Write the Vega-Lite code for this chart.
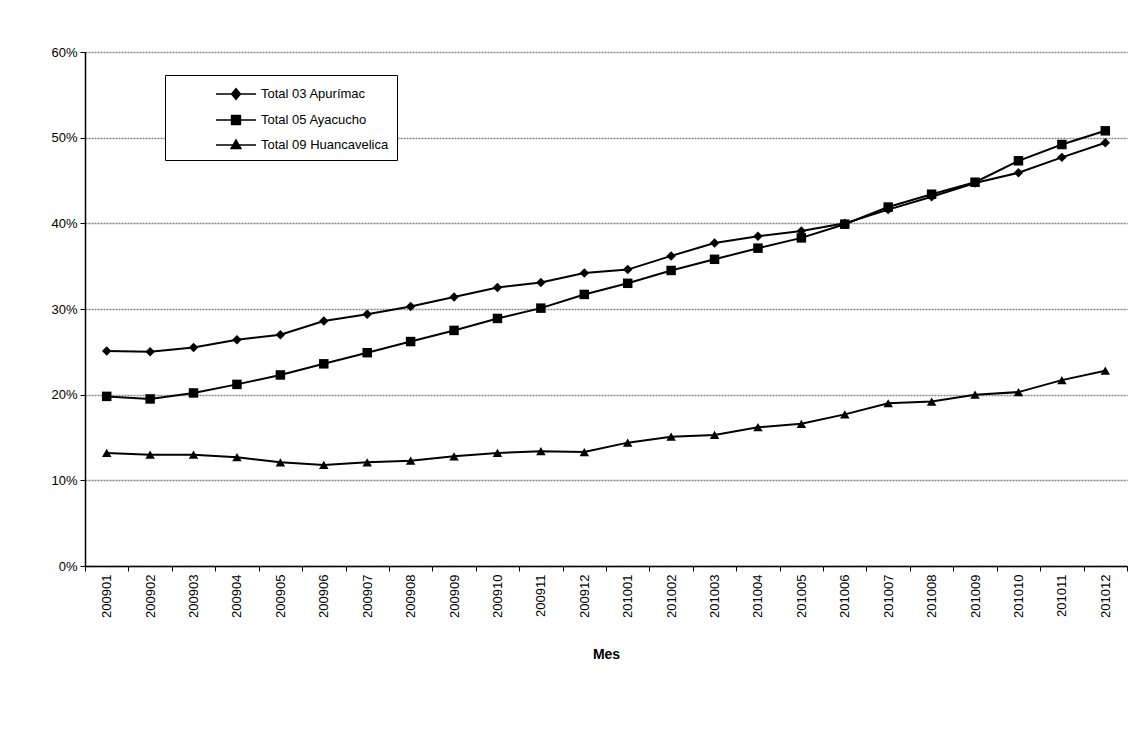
{
  "$schema": "https://vega.github.io/schema/vega-lite/v6.json",
  "width": 1042,
  "height": 514,
  "autosize": "none",
  "padding": {"left": 85, "top": 52, "right": 15, "bottom": 170},
  "background": "white",
  "config": {
    "view": {"stroke": null},
    "font": "Liberation Sans"
  },
  "datasets": {
    "series": [
      {"mes": "200901", "serie": "Total 03 Apurímac", "valor": 0.251},
      {"mes": "200902", "serie": "Total 03 Apurímac", "valor": 0.250},
      {"mes": "200903", "serie": "Total 03 Apurímac", "valor": 0.255},
      {"mes": "200904", "serie": "Total 03 Apurímac", "valor": 0.264},
      {"mes": "200905", "serie": "Total 03 Apurímac", "valor": 0.270},
      {"mes": "200906", "serie": "Total 03 Apurímac", "valor": 0.286},
      {"mes": "200907", "serie": "Total 03 Apurímac", "valor": 0.294},
      {"mes": "200908", "serie": "Total 03 Apurímac", "valor": 0.303},
      {"mes": "200909", "serie": "Total 03 Apurímac", "valor": 0.314},
      {"mes": "200910", "serie": "Total 03 Apurímac", "valor": 0.325},
      {"mes": "200911", "serie": "Total 03 Apurímac", "valor": 0.331},
      {"mes": "200912", "serie": "Total 03 Apurímac", "valor": 0.342},
      {"mes": "201001", "serie": "Total 03 Apurímac", "valor": 0.346},
      {"mes": "201002", "serie": "Total 03 Apurímac", "valor": 0.362},
      {"mes": "201003", "serie": "Total 03 Apurímac", "valor": 0.377},
      {"mes": "201004", "serie": "Total 03 Apurímac", "valor": 0.385},
      {"mes": "201005", "serie": "Total 03 Apurímac", "valor": 0.391},
      {"mes": "201006", "serie": "Total 03 Apurímac", "valor": 0.400},
      {"mes": "201007", "serie": "Total 03 Apurímac", "valor": 0.416},
      {"mes": "201008", "serie": "Total 03 Apurímac", "valor": 0.431},
      {"mes": "201009", "serie": "Total 03 Apurímac", "valor": 0.447},
      {"mes": "201010", "serie": "Total 03 Apurímac", "valor": 0.459},
      {"mes": "201011", "serie": "Total 03 Apurímac", "valor": 0.477},
      {"mes": "201012", "serie": "Total 03 Apurímac", "valor": 0.494},
      {"mes": "200901", "serie": "Total 05 Ayacucho", "valor": 0.198},
      {"mes": "200902", "serie": "Total 05 Ayacucho", "valor": 0.195},
      {"mes": "200903", "serie": "Total 05 Ayacucho", "valor": 0.202},
      {"mes": "200904", "serie": "Total 05 Ayacucho", "valor": 0.212},
      {"mes": "200905", "serie": "Total 05 Ayacucho", "valor": 0.223},
      {"mes": "200906", "serie": "Total 05 Ayacucho", "valor": 0.236},
      {"mes": "200907", "serie": "Total 05 Ayacucho", "valor": 0.249},
      {"mes": "200908", "serie": "Total 05 Ayacucho", "valor": 0.262},
      {"mes": "200909", "serie": "Total 05 Ayacucho", "valor": 0.275},
      {"mes": "200910", "serie": "Total 05 Ayacucho", "valor": 0.289},
      {"mes": "200911", "serie": "Total 05 Ayacucho", "valor": 0.301},
      {"mes": "200912", "serie": "Total 05 Ayacucho", "valor": 0.317},
      {"mes": "201001", "serie": "Total 05 Ayacucho", "valor": 0.330},
      {"mes": "201002", "serie": "Total 05 Ayacucho", "valor": 0.345},
      {"mes": "201003", "serie": "Total 05 Ayacucho", "valor": 0.358},
      {"mes": "201004", "serie": "Total 05 Ayacucho", "valor": 0.371},
      {"mes": "201005", "serie": "Total 05 Ayacucho", "valor": 0.383},
      {"mes": "201006", "serie": "Total 05 Ayacucho", "valor": 0.399},
      {"mes": "201007", "serie": "Total 05 Ayacucho", "valor": 0.419},
      {"mes": "201008", "serie": "Total 05 Ayacucho", "valor": 0.434},
      {"mes": "201009", "serie": "Total 05 Ayacucho", "valor": 0.448},
      {"mes": "201010", "serie": "Total 05 Ayacucho", "valor": 0.473},
      {"mes": "201011", "serie": "Total 05 Ayacucho", "valor": 0.492},
      {"mes": "201012", "serie": "Total 05 Ayacucho", "valor": 0.508},
      {"mes": "200901", "serie": "Total 09 Huancavelica", "valor": 0.132},
      {"mes": "200902", "serie": "Total 09 Huancavelica", "valor": 0.130},
      {"mes": "200903", "serie": "Total 09 Huancavelica", "valor": 0.130},
      {"mes": "200904", "serie": "Total 09 Huancavelica", "valor": 0.127},
      {"mes": "200905", "serie": "Total 09 Huancavelica", "valor": 0.121},
      {"mes": "200906", "serie": "Total 09 Huancavelica", "valor": 0.118},
      {"mes": "200907", "serie": "Total 09 Huancavelica", "valor": 0.121},
      {"mes": "200908", "serie": "Total 09 Huancavelica", "valor": 0.123},
      {"mes": "200909", "serie": "Total 09 Huancavelica", "valor": 0.128},
      {"mes": "200910", "serie": "Total 09 Huancavelica", "valor": 0.132},
      {"mes": "200911", "serie": "Total 09 Huancavelica", "valor": 0.134},
      {"mes": "200912", "serie": "Total 09 Huancavelica", "valor": 0.133},
      {"mes": "201001", "serie": "Total 09 Huancavelica", "valor": 0.144},
      {"mes": "201002", "serie": "Total 09 Huancavelica", "valor": 0.151},
      {"mes": "201003", "serie": "Total 09 Huancavelica", "valor": 0.153},
      {"mes": "201004", "serie": "Total 09 Huancavelica", "valor": 0.162},
      {"mes": "201005", "serie": "Total 09 Huancavelica", "valor": 0.166},
      {"mes": "201006", "serie": "Total 09 Huancavelica", "valor": 0.177},
      {"mes": "201007", "serie": "Total 09 Huancavelica", "valor": 0.190},
      {"mes": "201008", "serie": "Total 09 Huancavelica", "valor": 0.192},
      {"mes": "201009", "serie": "Total 09 Huancavelica", "valor": 0.200},
      {"mes": "201010", "serie": "Total 09 Huancavelica", "valor": 0.203},
      {"mes": "201011", "serie": "Total 09 Huancavelica", "valor": 0.217},
      {"mes": "201012", "serie": "Total 09 Huancavelica", "valor": 0.228}
    ]
  },
  "data": {"name": "series"},
  "encoding": {
    "x": {
      "field": "mes",
      "type": "ordinal",
      "scale": {"type": "band", "paddingInner": 0, "paddingOuter": 0},
      "axis": {
        "title": "Mes",
        "titleFont": "Liberation Sans",
        "titleFontSize": 14,
        "titleFontWeight": "bold",
        "titleColor": "black",
        "titlePadding": 30,
        "labelAngle": 270,
        "labelFont": "Liberation Sans",
        "labelFontSize": 13,
        "labelColor": "black",
        "labelPadding": 3,
        "tickBand": "extent",
        "tickColor": "black",
        "tickSize": 5,
        "domainColor": "black",
        "domainWidth": 1.5,
        "grid": false
      }
    },
    "y": {
      "field": "valor",
      "type": "quantitative",
      "scale": {"domain": [0, 0.6], "nice": false},
      "axis": {
        "title": null,
        "values": [0, 0.1, 0.2, 0.3, 0.4, 0.5, 0.6],
        "format": ".0%",
        "labelFont": "Liberation Sans",
        "labelFontSize": 13,
        "labelColor": "black",
        "labelPadding": 3,
        "tickColor": "black",
        "tickSize": 5,
        "domainColor": "black",
        "domainWidth": 1.5,
        "grid": true,
        "gridColor": "#858585",
        "gridWidth": 1.5,
        "gridDash": [2, 1]
      }
    }
  },
  "layer": [
    {
      "mark": {"type": "line", "color": "black", "strokeWidth": 2},
      "encoding": {"detail": {"field": "serie", "type": "nominal"}}
    },
    {
      "mark": {"type": "point", "filled": true, "color": "black", "opacity": 1, "size": 90},
      "encoding": {
        "shape": {
          "field": "serie",
          "type": "nominal",
          "scale": {
            "domain": ["Total 03 Apurímac", "Total 05 Ayacucho", "Total 09 Huancavelica"],
            "range": ["diamond", "square", "triangle-up"]
          },
          "legend": null
        }
      }
    },
    {
      "mark": {"type": "point", "filled": false, "color": "black", "strokeWidth": 1.4, "opacity": 0, "size": 10},
      "encoding": {
        "shape": {
          "field": "serie",
          "type": "nominal",
          "scale": {
            "domain": ["Total 03 Apurímac", "Total 05 Ayacucho", "Total 09 Huancavelica"],
            "range": [
              "M-2,0H2M-0.45,0L0,-0.55L0.45,0L0,0.55ZM-0.32,0L0,-0.4L0.32,0L0,0.4ZM-0.19,0L0,-0.24L0.19,0L0,0.24ZM-0.07,0L0,-0.09L0.07,0L0,0.09Z",
              "M-2,0H2M-0.45,-0.45H0.45V0.45H-0.45ZM-0.33,-0.33H0.33V0.33H-0.33ZM-0.21,-0.21H0.21V0.21H-0.21ZM-0.09,-0.09H0.09V0.09H-0.09Z",
              "M-2,0H2M-0.5,0.35L0,-0.5L0.5,0.35ZM-0.36,0.27L0,-0.34L0.36,0.27ZM-0.225,0.196L0,-0.19L0.225,0.196ZM-0.09,0.12L0,-0.03L0.09,0.12Z"
            ]
          },
          "legend": {
            "title": null,
            "orient": "none",
            "legendX": 80,
            "legendY": 23,
            "strokeColor": "black",
            "fillColor": "white",
            "padding": 8,
            "symbolSize": 400,
            "symbolOffset": 52,
            "symbolOpacity": 1,
            "symbolStrokeColor": "black",
            "symbolStrokeWidth": 1.4,
            "labelFont": "Liberation Sans",
            "labelFontSize": 13,
            "labelColor": "black",
            "labelOffset": 14,
            "rowPadding": 6
          }
        }
      }
    }
  ],
  "resolve": {"scale": {"shape": "independent"}, "legend": {"shape": "independent"}}
}
